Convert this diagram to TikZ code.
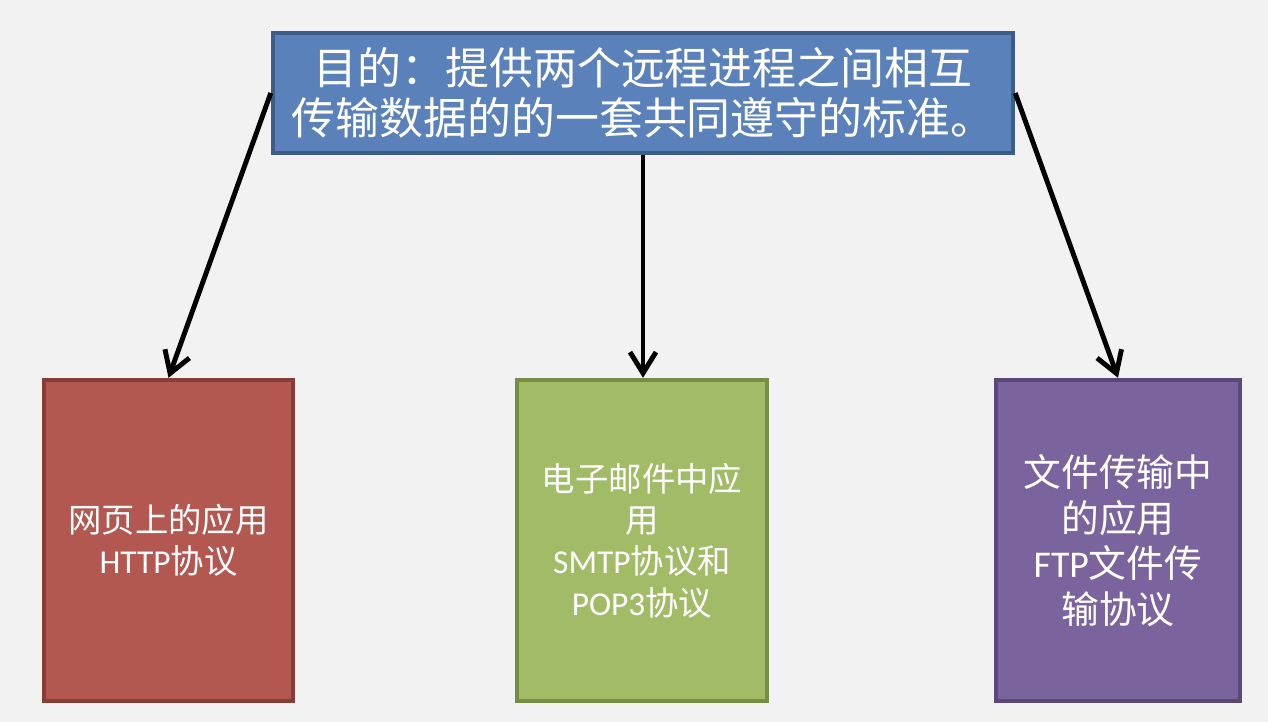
\documentclass[tikz,border=0pt]{standalone}
\usepackage{fontspec}
\setmainfont{Noto Sans CJK SC}
\newfontfamily\latfont{Carlito}
\newcommand{\lat}[1]{{\latfont #1}}
\usetikzlibrary{arrows.meta,positioning}
\definecolor{bgGray}{HTML}{F2F2F2}
\definecolor{purposeFill}{HTML}{5A81BA}
\definecolor{purposeDraw}{HTML}{3E5C88}
\definecolor{webFill}{HTML}{B35851}
\definecolor{webDraw}{HTML}{873D38}
\definecolor{mailFill}{HTML}{A2BB67}
\definecolor{mailDraw}{HTML}{778C46}
\definecolor{fileFill}{HTML}{7B639D}
\definecolor{fileDraw}{HTML}{5A4878}

\begin{document}
\begin{tikzpicture}[
    arrow/.style={-{Straight Barb[length=4.2mm,width=5.2mm]}, line width=2.8pt},
    box/.style={draw, line width=2.5pt, align=center, text=white,
        minimum height=6.42cm, font=\fontsize{19}{23.5}\selectfont},
    topbox/.style={draw=purposeDraw, fill=purposeFill, line width=2.5pt, align=center,
        text=white, minimum width=14.8cm, minimum height=2.4cm,
        font=\fontsize{25}{28.5}\selectfont}
]

% Background
\fill[bgGray] (0,0) rectangle (25.36,14.44);
\useasboundingbox (0,0) rectangle (25.36,14.44);

% Purpose
\node[topbox] (purpose) at (12.86,12.58) {目的：提供两个远程进程之间相互\\传输数据的的一套共同遵守的标准。};

% Applications
\node[box, draw=webDraw, fill=webFill, minimum width=4.98cm] (web) at (3.37,3.63)
    {网页上的应用\\\lat{HTTP}协议};
\node[box, draw=mailDraw, fill=mailFill, minimum width=5.0cm] (mail) at (12.84,3.63)
    {电子邮件中应\\用\\\lat{SMTP}协议和\\\lat{POP3}协议};
\node[box, draw=fileDraw, fill=fileFill, minimum width=4.88cm,
    font=\fontsize{21.5}{26}\selectfont] (file) at (22.36,3.63)
    {文件传输中\\的应用\\\lat{FTP}文件传\\输协议};

% Arrows
\draw[arrow] (purpose.west) -- (web.north);
\draw[arrow] (purpose.south) -- (purpose.south |- mail.north);
\draw[arrow] (purpose.east) -- (file.north);

\end{tikzpicture}
\end{document}
